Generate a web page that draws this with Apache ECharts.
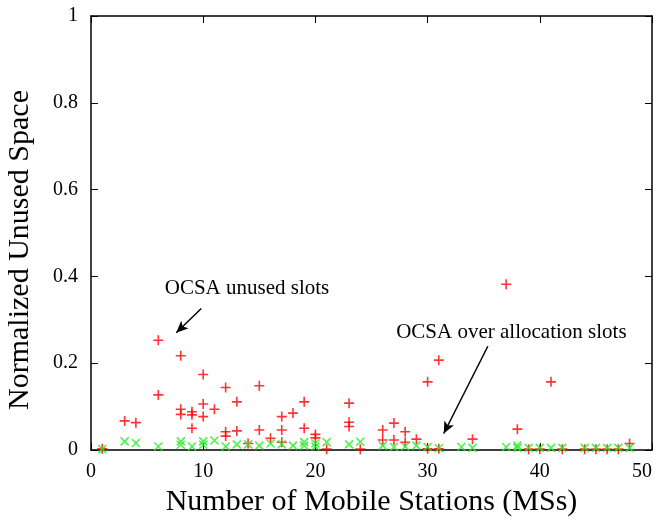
<!DOCTYPE html>
<html><head><meta charset="utf-8">
<script src="https://cdn.jsdelivr.net/npm/echarts@6/dist/echarts.min.js"></script>
<style>html,body{margin:0;padding:0;background:#fff}#c{width:657px;height:525px}</style>
</head><body><div id="c"></div>
<script>
const xTicks = [0, 10, 20, 30, 40, 50];
const yTicks = [0, 0.2, 0.4, 0.6, 0.8, 1];
// OCSA unused slots (red +)
const unusedX = [1,3,4,6,6,8,8,8,9,9,9,10,10,10,11,12,12,12,13,13,14,15,15,16,17,17,17,18,19,19,20,20,21,23,23,23,24,26,26,27,27,28,28,29,30,30,31,31,34,37,38,39,40,41,42,44,45,46,47,48];
const unusedY = [0.003,0.067,0.063,0.253,0.127,0.217,0.094,0.082,0.088,0.081,0.050,0.174,0.106,0.077,0.094,0.144,0.042,0.032,0.111,0.044,0.015,0.148,0.046,0.027,0.077,0.046,0.018,0.085,0.111,0.050,0.036,0.028,0.002,0.108,0.064,0.054,0.002,0.046,0.023,0.062,0.023,0.042,0.018,0.025,0.157,0.003,0.207,0.003,0.025,0.382,0.048,0.002,0.002,0.157,0.002,0.002,0.002,0.002,0.002,0.015];
// OCSA over allocation slots (green x)
const overX = [1,3,4,6,8,8,9,10,10,11,12,13,14,15,16,17,18,19,19,20,20,21,23,24,26,27,28,29,30,31,33,34,37,38,38,39,40,41,42,44,45,46,47,48];
const overY = [0.002,0.020,0.016,0.008,0.020,0.012,0.008,0.020,0.012,0.022,0.008,0.013,0.013,0.010,0.015,0.013,0.010,0.018,0.010,0.015,0.008,0.018,0.013,0.019,0.010,0.007,0.008,0.010,0.007,0.004,0.007,0.005,0.007,0.010,0.005,0.005,0.005,0.005,0.005,0.005,0.005,0.005,0.005,0.005];
const yTitle = 'Normalized Unused Space';
const xTitle = 'Number of Mobile Stations (MSs)';

const FONT = 'Liberation Serif, Times New Roman, serif';
const pair = (xs, ys) => xs.map((x, i) => [x, ys[i]]);

const chart = echarts.init(document.getElementById('c'), null, {renderer: 'canvas'});
const axisCommon = {
  axisLine: {show: true, onZero: false, lineStyle: {color: '#000', width: 1.5}},
  axisTick: {show: true, inside: true, length: 7, lineStyle: {color: '#000', width: 1}},
  splitLine: {show: false}
};
chart.setOption({
  animation: false,
  grid: {left: 91, right: 5, top: 16, bottom: 75, containLabel: false, outerBoundsMode: 'none'},
  xAxis: [
    Object.assign({type: 'value', min: 0, max: 50, interval: 10, position: 'bottom',
      name: xTitle, nameLocation: 'middle', nameGap: 34,
      nameTextStyle: {fontFamily: FONT, fontSize: 30, color: '#000'},
      axisLabel: {fontFamily: FONT, fontSize: 20, color: '#000', margin: 12, alignMaxLabel: 'right',
        formatter: v => xTicks.includes(v) ? String(v) : ''}}, axisCommon),
    Object.assign({type: 'value', min: 0, max: 50, interval: 10, position: 'top',
      axisLabel: {show: false}}, axisCommon)
  ],
  yAxis: [
    Object.assign({type: 'value', min: 0, max: 1, interval: 0.2, position: 'left',
      axisLabel: {fontFamily: FONT, fontSize: 20, color: '#000', margin: 13,
        formatter: v => { const t = yTicks.find(k => Math.abs(k - v) < 1e-9); return t === undefined ? '' : String(t); }}}, axisCommon),
    Object.assign({type: 'value', min: 0, max: 1, interval: 0.2, position: 'right',
      axisLabel: {show: false}}, axisCommon)
  ],
  series: [
    {
      name: 'OCSA unused slots', type: 'scatter', data: pair(unusedX, unusedY),
      symbol: 'path://M0,5L10,5M5,0L5,10', symbolSize: 10,
      itemStyle: {color: 'none', borderColor: '#ff0000', borderWidth: 1.6},
      markLine: {
        silent: true, symbol: ['none', 'arrow'], symbolSize: [8, 12],
        lineStyle: {color: '#000', width: 1.5, type: 'solid'}, label: {show: false},
        data: [
          [{coord: [9.83, 0.326]}, {coord: [7.6, 0.270]}],
          [{coord: [35.37, 0.239]}, {coord: [31.44, 0.038]}]
        ]
      }
    },
    {
      name: 'OCSA over allocation slots', type: 'scatter', data: pair(overX, overY),
      symbol: 'path://M0,0L10,10M10,0L0,10', symbolSize: 8,
      itemStyle: {color: 'none', borderColor: '#22ee22', borderWidth: 1.6}
    }
  ]
});

function place() {
  const p1 = chart.convertToPixel({gridIndex: 0}, [6.57, 0.372]);
  const p2 = chart.convertToPixel({gridIndex: 0}, [27.2, 0.270]);
  chart.setOption({graphic: [
    {type: 'text', x: 20, y: 250, rotation: Math.PI / 2, style: {text: yTitle, font: '30px ' + FONT, fill: '#000', verticalAlign: 'middle', align: 'center'}},
    {type: 'text', x: p1[0], y: p1[1], style: {text: 'OCSA unused slots', font: '21px ' + FONT, fill: '#000', verticalAlign: 'middle', align: 'left'}},
    {type: 'text', x: p2[0], y: p2[1], style: {text: 'OCSA over allocation slots', font: '21px ' + FONT, fill: '#000', verticalAlign: 'middle', align: 'left'}}
  ]});
}
place();
</script></body></html>
